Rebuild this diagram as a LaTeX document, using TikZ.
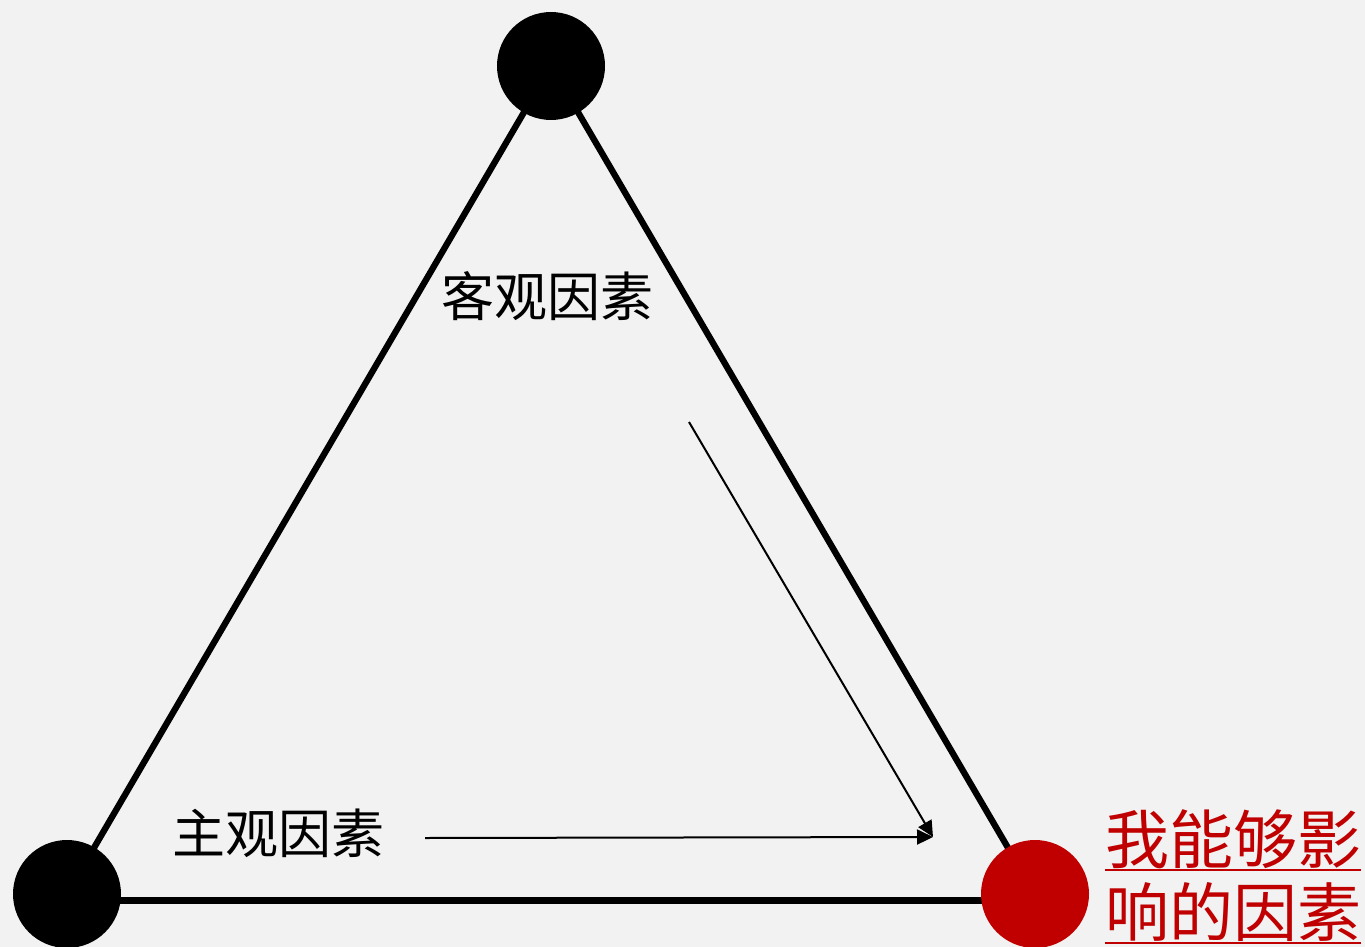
\documentclass[tikz,border=0pt]{standalone}
\usepackage{fontspec}
\newfontfamily\cjk{Noto Sans CJK SC}
\usetikzlibrary{arrows.meta,calc}
\definecolor{bg}{HTML}{F2F2F2}
\definecolor{myred}{HTML}{C00000}
\pgfdeclarelayer{back}
\pgfsetlayers{back,main}
\begin{document}
\begin{tikzpicture}[x=1pt,y=-1pt,
  edge/.style={line width=6.3pt,black},
  thinarrow/.style={line width=2pt,-{Triangle[length=16pt,width=15pt]}},
  dot/.style={circle,fill=black,minimum size=108pt,inner sep=0pt},
  lbl/.style={font=\cjk\fontsize{53}{60}\selectfont,inner sep=0pt},
  redlbl/.style={font=\cjk\fontsize{64}{72}\selectfont,inner sep=0pt,text=myred,anchor=base west},
  uline/.style={line width=2.5pt,myred}]
\useasboundingbox (0,0) rectangle (1365,947);
\begin{pgfonlayer}{back}
\fill[bg] (0,0) rectangle (1365,947);
\end{pgfonlayer}
\node[dot] (top) at (551,66) {};
\node[dot] (left) at (67,894) {};
\node[dot,fill=myred] (right) at (1035,894) {};
\begin{pgfonlayer}{back}
\draw[edge] (top.center) -- (left.center);
\draw[edge] (top.center) -- (right.center);
\draw[edge] ([yshift=-6.5pt]left.center) -- ([yshift=-6.5pt]right.center);
\end{pgfonlayer}
\node[lbl] (obj) at (547,296) {客观因素};
\node[lbl] (sub) at (278,833) {主观因素};
\node[redlbl] (r1) at (1105,863) {我能够影};
\node[redlbl] (r2) at (1105,936) {响的因素};
\draw[uline] ([yshift=-7pt]r1.base west) -- ([yshift=-7pt]r1.base east);
\draw[uline] ([yshift=-7pt]r2.base west) -- ([yshift=-7pt]r2.base east);
\coordinate (h0) at (425,838);
\coordinate (d0) at (689,422);
\coordinate (tip) at (933,837);
\draw[thinarrow] (h0) -- (tip);
\draw[thinarrow] (d0) -- (tip);
\end{tikzpicture}
\end{document}
